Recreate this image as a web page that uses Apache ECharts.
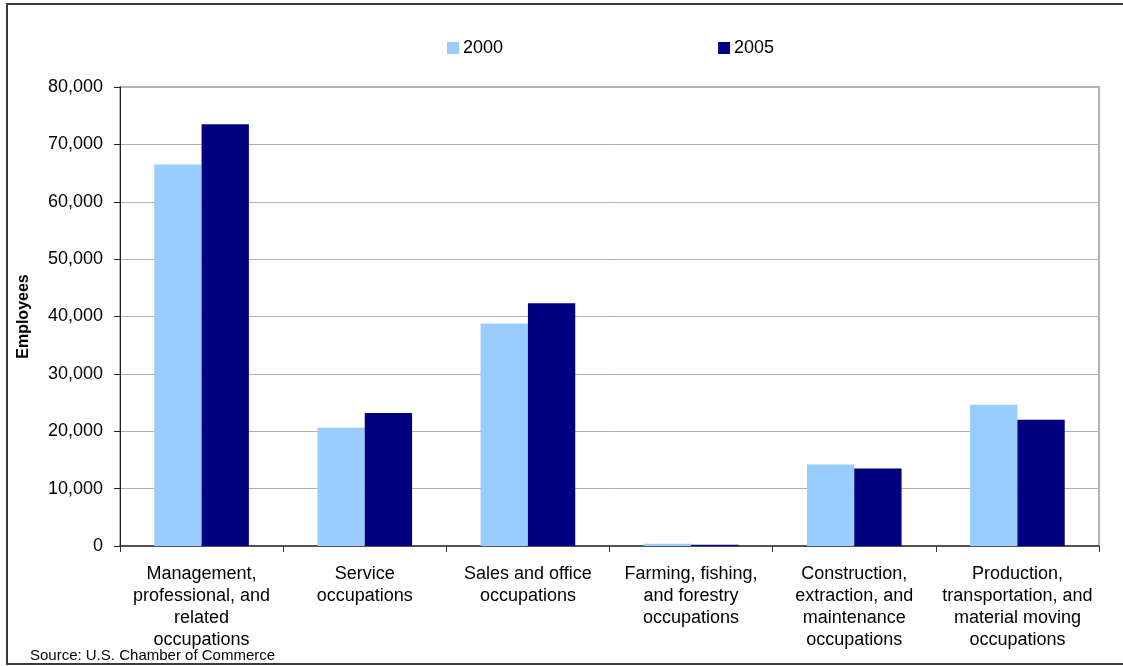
<!DOCTYPE html>
<html>
<head>
<meta charset="utf-8">
<title>Employees by occupation, 2000 and 2005</title>
<script src="https://cdn.jsdelivr.net/npm/echarts@6/dist/echarts.min.js"></script>
<style>
  html, body { margin: 0; padding: 0; background: #ffffff; }
  #chart { width: 1123px; height: 666px; }
</style>
</head>
<body>
<div id="chart"></div>
<script>
// Occupation groups (x-axis categories, wrapped as shown under the axis)
const categories = [
  'Management,\nprofessional, and\nrelated\noccupations',
  'Service\noccupations',
  'Sales and office\noccupations',
  'Farming, fishing,\nand forestry\noccupations',
  'Construction,\nextraction, and\nmaintenance\noccupations',
  'Production,\ntransportation, and\nmaterial moving\noccupations'
];

// Employees per occupation group
const employees2000 = [66500, 20600, 38800, 400, 14200, 24600];
const employees2005 = [73500, 23200, 42300, 200, 13500, 22000];

// Value axis range and step
const yMin = 0;
const yMax = 80000;
const yStep = 10000;

const sourceNote = 'Source: U.S. Chamber of Commerce';
const FONT = '"Liberation Sans", Arial, sans-serif';

const chart = echarts.init(document.getElementById('chart'), null, { renderer: 'canvas' });

chart.setOption({
  backgroundColor: '#ffffff',
  animation: false,
  textStyle: { fontFamily: FONT, color: '#000000' },
  legend: {
    data: ['2000', '2005'],
    left: 442,
    top: 33,
    itemWidth: 12,
    itemHeight: 12,
    itemGap: 215,
    icon: 'rect',
    textStyle: { fontFamily: FONT, fontSize: 18, color: '#000000', lineHeight: 20, padding: [0, 0, 0, -1] }
  },
  grid: {
    left: 120,
    right: 24,
    top: 87,
    bottom: 120,
    containLabel: false,
    outerBoundsMode: 'none',
    show: true,
    borderColor: '#9a9a9a',
    borderWidth: 1.5,
    backgroundColor: 'transparent'
  },
  xAxis: {
    type: 'category',
    data: categories,
    axisLine: { show: true, lineStyle: { color: '#333333', width: 1.5 } },
    axisTick: { show: true, alignWithLabel: false, length: 6, lineStyle: { color: '#333333' } },
    axisLabel: {
      interval: 0,
      hideOverlap: false,
      margin: 17,
      fontFamily: FONT,
      fontSize: 18,
      lineHeight: 22,
      color: '#000000',
      align: 'center'
    },
    splitLine: { show: false }
  },
  yAxis: {
    type: 'value',
    min: yMin,
    max: yMax,
    interval: yStep,
    name: 'Employees',
    nameLocation: 'middle',
    nameGap: 88,
    nameRotate: 90,
    nameTextStyle: { fontFamily: FONT, fontSize: 16, fontWeight: 'bold', color: '#000000' },
    axisLine: { show: true, lineStyle: { color: '#222222', width: 1 } },
    axisTick: { show: true, inside: false, length: 6, lineStyle: { color: '#222222' } },
    axisLabel: {
      margin: 17,
      fontFamily: FONT,
      fontSize: 18,
      color: '#000000',
      formatter: v => v.toLocaleString('en-US')
    },
    splitLine: { show: true, lineStyle: { color: '#b0b0b0', width: 1 } }
  },
  series: [
    {
      name: '2000',
      type: 'bar',
      data: employees2000,
      barGap: '0%',
      barCategoryGap: '42%',
      itemStyle: { color: '#99ccff' }
    },
    {
      name: '2005',
      type: 'bar',
      data: employees2005,
      barGap: '0%',
      barCategoryGap: '42%',
      itemStyle: { color: '#000080' }
    }
  ],
  graphic: [
    {
      // outer chart frame
      type: 'rect',
      silent: true,
      shape: { x: 7, y: 4, width: 1130, height: 660 },
      style: { fill: 'none', stroke: '#3a3a3a', lineWidth: 2 }
    },
    {
      type: 'text',
      left: 30,
      top: 648,
      style: { text: sourceNote, font: '15px ' + FONT, fill: '#000000' }
    }
  ]
});
</script>
</body>
</html>
